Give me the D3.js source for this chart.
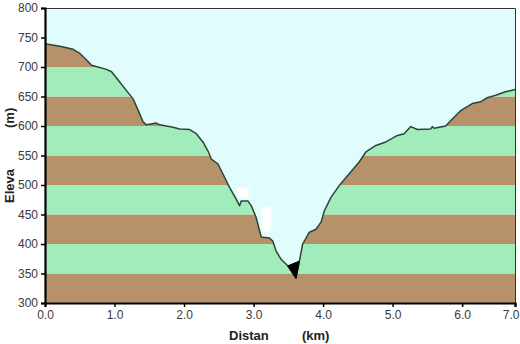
<!DOCTYPE html>
<html>
<head>
<meta charset="utf-8">
<script src="https://cdn.jsdelivr.net/npm/d3@7"></script>
<style>
  html, body { margin: 0; padding: 0; background: #ffffff; }
  svg { display: block; }
  text { font-family: "Liberation Sans", Arial, sans-serif; }
</style>
</head>
<body>
<svg id="chart" width="520" height="344"></svg>
<script>
// Elevation profile: distance along the track (km) and elevation (m)
const distKm = [0, 0.02, 0.215, 0.406, 0.502, 0.598, 0.67, 0.885, 0.957, 1.052, 1.172, 1.267,
  1.339, 1.41, 1.459, 1.603, 1.65, 1.841, 1.937, 2.08, 2.176, 2.271, 2.343, 2.392, 2.486,
  2.558, 2.654, 2.75, 2.798, 2.822, 2.917, 2.966, 3.037, 3.109, 3.228, 3.276, 3.324, 3.396,
  3.491, 3.587, 3.611, 3.659, 3.706, 3.802, 3.898, 3.97, 4.017, 4.113, 4.232, 4.376, 4.519,
  4.615, 4.759, 4.902, 5.069, 5.165, 5.261, 5.356, 5.548, 5.571, 5.595, 5.763, 5.858, 5.978,
  6.145, 6.265, 6.36, 6.481, 6.624, 6.76];
const elevM = [740, 739, 735, 730, 723, 712, 703, 696, 692, 678, 660, 646,
  627, 607, 602, 605, 602, 598, 595, 594, 587, 573, 558, 544, 536,
  519, 496, 476, 465, 473, 473, 465, 445, 412, 410, 405, 388, 374,
  363, 346, 342, 371, 400, 420, 425, 437, 456, 479, 499, 519, 539,
  556, 567, 573, 584, 587, 599, 594, 595, 599, 596, 600, 612, 626,
  638, 641, 648, 652, 658, 662];

// Axis ticks
const xTickValues = [0, 1, 2, 3, 4, 5, 6, 6.76];
const xTickLabels = ["0.0", "1.0", "2.0", "3.0", "4.0", "5.0", "6.0", "7.0"];
const yTickValues = [300, 350, 400, 450, 500, 550, 600, 650, 700, 750, 800];

// Elevation bands drawn beneath the profile (lower, upper)
const bandLower = [300, 350, 400, 450, 500, 550, 600, 650, 700, 750];
const bandUpper = [350, 400, 450, 500, 550, 600, 650, 700, 750, 800];

// Distance range of the sharp spike at the valley floor
const spikeFrom = 3.49;
const spikeTo = 3.66;

const colors = {
  sky: "#e1fcfc",
  brown: "#b6916a",
  green: "#a0ecbb",
  line: "#2b4637",
  axis: "#000000",
  tickText: "#3a3a3a"
};

const svg = d3.select("#chart");
const plot = { left: 45, right: 515, top: 8, bottom: 303 };

const x = d3.scaleLinear().domain([0, 6.76]).range([plot.left, plot.right]);
const y = d3.scaleLinear().domain([300, 800]).range([plot.bottom, plot.top]);

const profile = distKm.map((d, i) => ({ d, e: elevM[i] }));

// Alternating brown / green elevation bands
svg.append("g").selectAll("rect")
  .data(bandLower.map((lo, i) => ({ lo, hi: bandUpper[i], i })))
  .join("rect")
  .attr("x", plot.left)
  .attr("width", plot.right - plot.left)
  .attr("y", d => y(d.hi))
  .attr("height", d => y(d.lo) - y(d.hi))
  .attr("fill", d => d.i % 2 === 0 ? colors.brown : colors.green);

// Sky above the profile
const skyArea = d3.area()
  .x(p => x(p.d))
  .y0(y(800))
  .y1(p => y(p.e));
svg.append("path")
  .datum(profile)
  .attr("d", skyArea)
  .attr("fill", colors.sky);

// Pale washed-out patches along the steep descent
const defs = svg.append("defs");
defs.append("filter").attr("id", "soft")
  .append("feGaussianBlur").attr("stdDeviation", 1.2);
const patches = [
  { d0: 2.76, d1: 2.93, e0: 480, e1: 495 },
  { d0: 3.12, d1: 3.26, e0: 420, e1: 462 }
];
svg.append("g").attr("filter", "url(#soft)")
  .selectAll("rect").data(patches).join("rect")
  .attr("x", p => x(p.d0))
  .attr("width", p => x(p.d1) - x(p.d0))
  .attr("y", p => y(p.e1))
  .attr("height", p => y(p.e0) - y(p.e1))
  .attr("fill", "#ffffff");

// Profile line
const line = d3.line().x(p => x(p.d)).y(p => y(p.e));
svg.append("path")
  .datum(profile)
  .attr("d", line)
  .attr("fill", "none")
  .attr("stroke", colors.line)
  .attr("stroke-width", 1.5)
  .attr("stroke-linejoin", "round");

// Dark spike at the valley floor
const spike = profile.filter(p => p.d >= spikeFrom && p.d <= spikeTo);
svg.append("path")
  .datum(spike)
  .attr("d", d => line(d) + "Z")
  .attr("fill", "#000000")
  .attr("stroke", "#000000")
  .attr("stroke-width", 1);

// Thin frame on the top and right
svg.append("path")
  .attr("d", `M${plot.left},${plot.top + 0.5}H${plot.right + 0.5}V${plot.bottom}`)
  .attr("fill", "none")
  .attr("stroke", "#333333")
  .attr("stroke-width", 1);

// Axes
const xAxis = d3.axisBottom(x)
  .tickValues(xTickValues)
  .tickFormat((d, i) => xTickLabels[i])
  .tickSize(4)
  .tickPadding(3);
const yAxis = d3.axisLeft(y)
  .tickValues(yTickValues)
  .tickFormat(d3.format("d"))
  .tickSize(4)
  .tickPadding(3);

const gx = svg.append("g").attr("transform", `translate(0,${plot.bottom})`).call(xAxis);
const gy = svg.append("g").attr("transform", `translate(${plot.left},0)`).call(yAxis);

[gx, gy].forEach(g => {
  g.select(".domain").attr("stroke", colors.axis).attr("stroke-width", 2.2);
  g.selectAll(".tick line").attr("stroke", colors.axis).attr("stroke-width", 1.5);
  g.selectAll(".tick text")
    .attr("fill", colors.tickText)
    .style("font-size", "12px")
    .style("font-family", "'Liberation Sans', Arial, sans-serif");
});

// Keep the last distance label inside the canvas
gx.selectAll(".tick text")
  .filter((d, i) => i === xTickValues.length - 1)
  .attr("text-anchor", "end")
  .attr("dx", 4);

// Axis titles
svg.append("text")
  .attr("x", 229).attr("y", 340)
  .style("font-size", "13px").style("font-weight", "bold")
  .attr("fill", "#222222")
  .text("Distan");
svg.append("text")
  .attr("x", 302).attr("y", 340)
  .style("font-size", "13px").style("font-weight", "bold")
  .attr("fill", "#222222")
  .text("(km)");

svg.append("text")
  .attr("transform", "translate(14,203) rotate(-90)")
  .style("font-size", "13px").style("font-weight", "bold")
  .attr("fill", "#222222")
  .text("Eleva");
svg.append("text")
  .attr("transform", "translate(14,128) rotate(-90)")
  .style("font-size", "13px").style("font-weight", "bold")
  .attr("fill", "#222222")
  .text("(m)");
</script>
</body>
</html>
